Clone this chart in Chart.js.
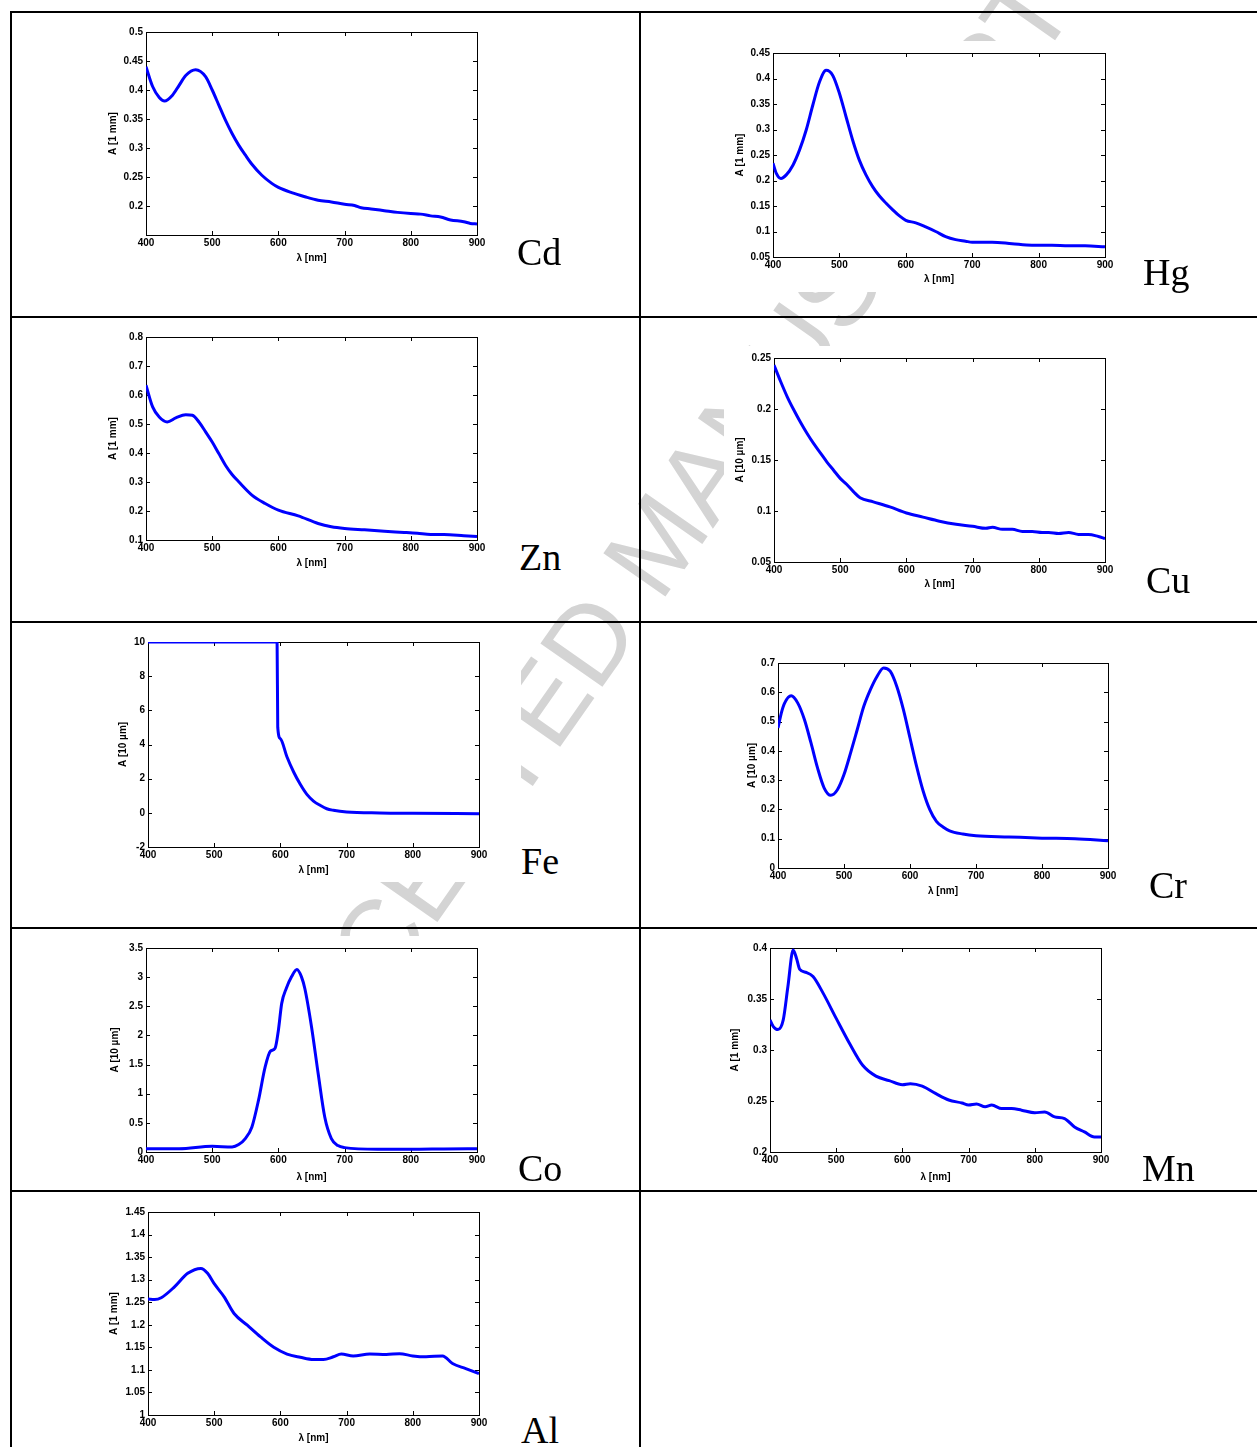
<!DOCTYPE html>
<html>
<head>
<meta charset="utf-8">
<script src="https://cdn.jsdelivr.net/npm/chart.js@4.4.1/dist/chart.umd.min.js"></script>
<style>
  body { margin:0; width:1257px; height:1447px; position:relative; overflow:hidden; background:#fff; }
  .wm { position:absolute; left:268px; top:1043px; white-space:nowrap; font:110px "Liberation Sans", Arial, sans-serif; line-height:110px; color:#d4d4d4; transform-origin:0 50%; transform:rotate(-55deg); z-index:0; }
  .hl { position:absolute; left:10px; width:1247px; height:2px; background:#000; z-index:1; }
  .vl { position:absolute; top:11px; width:2px; height:1436px; background:#000; z-index:1; }
  canvas { position:absolute; background:#fff; z-index:2; }
  .el { position:absolute; font:38px "Liberation Serif", "Times New Roman", serif; line-height:38px; color:#000; z-index:3; }
</style>
</head>
<body>
<div class="wm">ACCEPTED MANUSCRIPT</div>
<div class="hl" style="top:11px"></div>
<div class="hl" style="top:316px"></div>
<div class="hl" style="top:621px"></div>
<div class="hl" style="top:927px"></div>
<div class="hl" style="top:1190px"></div>
<div class="vl" style="left:10px"></div>
<div class="vl" style="left:639px"></div>

<div class="el" style="left:517px;top:233px">Cd</div>
<div class="el" style="left:1143px;top:253px">Hg</div>
<div class="el" style="left:519px;top:538px">Zn</div>
<div class="el" style="left:1146px;top:561px">Cu</div>
<div class="el" style="left:521px;top:842px">Fe</div>
<div class="el" style="left:1149px;top:866px">Cr</div>
<div class="el" style="left:518px;top:1149px">Co</div>
<div class="el" style="left:1142px;top:1149px">Mn</div>
<div class="el" style="left:521px;top:1411px">Al</div>

<script>
// wavelengths (nm) and absorbance
const xTicks = [400, 500, 600, 700, 800, 900];

const cdWl = [400,410,420,428,440,450,460,475,490,500,510,520,530,540,550,560,575,590,600,620,640,660,680,700,715,725,740,760,780,800,815,830,845,860,880,890,900];
const cdA  = [0.44,0.406,0.387,0.381,0.391,0.408,0.425,0.435,0.423,0.4,0.374,0.348,0.325,0.305,0.288,0.272,0.253,0.239,0.232,0.223,0.216,0.21,0.207,0.203,0.201,0.197,0.195,0.192,0.189,0.187,0.186,0.183,0.181,0.176,0.173,0.17,0.169];
const cdTicks = [0.2,0.25,0.3,0.35,0.4,0.45,0.5];

const hgWl = [400,405,412,420,430,440,450,460,470,480,490,500,510,520,530,540,550,560,570,580,590,600,615,630,645,660,675,690,700,730,760,790,820,845,870,900];
const hgA  = [0.234,0.214,0.204,0.211,0.23,0.26,0.299,0.348,0.393,0.416,0.406,0.371,0.325,0.279,0.24,0.211,0.188,0.17,0.156,0.143,0.131,0.122,0.117,0.109,0.1,0.09,0.084,0.081,0.079,0.079,0.076,0.073,0.073,0.072,0.072,0.07];
const hgTicks = [0.05,0.1,0.15,0.2,0.25,0.3,0.35,0.4,0.45];

const znWl = [400,410,420,432,445,460,470,480,490,500,510,520,530,540,560,580,600,630,660,680,700,730,760,790,810,830,850,880,900];
const znA  = [0.634,0.559,0.524,0.507,0.521,0.532,0.53,0.507,0.473,0.438,0.398,0.358,0.326,0.301,0.255,0.226,0.203,0.183,0.157,0.146,0.14,0.135,0.13,0.126,0.123,0.119,0.119,0.115,0.112];
const znTicks = [0.1,0.2,0.3,0.4,0.5,0.6,0.7,0.8];

const cuWl = [400,410,420,430,440,450,460,470,480,490,500,510,520,530,550,575,600,625,650,675,700,720,730,745,760,775,790,805,815,830,845,860,875,890,900];
const cuA  = [0.243,0.227,0.212,0.199,0.187,0.176,0.166,0.157,0.148,0.14,0.132,0.126,0.119,0.113,0.109,0.104,0.098,0.094,0.09,0.087,0.085,0.083,0.084,0.082,0.082,0.08,0.08,0.079,0.079,0.078,0.079,0.077,0.077,0.075,0.073];
const cuTicks = [0.05,0.1,0.15,0.2,0.25];

const feWl = [400,595,596,600,610,620,630,640,650,660,670,680,700,750,800,900];
const feA  = [10,10,5.0,4.34,3.27,2.39,1.67,1.08,0.69,0.44,0.24,0.15,0.05,-0.01,-0.03,-0.05];
const feTicks = [-2,0,2,4,6,8,10];

const crWl = [400,405,410,420,430,440,450,460,470,480,490,500,510,520,530,540,550,560,570,580,590,600,610,620,630,640,650,660,680,700,750,800,850,900];
const crA  = [0.478,0.529,0.563,0.588,0.563,0.507,0.427,0.341,0.273,0.248,0.267,0.319,0.393,0.472,0.552,0.609,0.654,0.683,0.672,0.62,0.541,0.444,0.347,0.262,0.199,0.159,0.14,0.127,0.116,0.11,0.106,0.102,0.1,0.093];
const crTicks = [0,0.1,0.2,0.3,0.4,0.5,0.6,0.7];

const coWl = [400,450,500,530,540,550,560,570,580,588,595,600,605,612,620,628,635,640,650,660,670,680,690,700,750,800,850,900];
const coA  = [0.057,0.057,0.098,0.086,0.127,0.23,0.43,0.89,1.46,1.73,1.78,2.09,2.55,2.81,3.01,3.13,3.0,2.8,2.15,1.35,0.6,0.23,0.11,0.075,0.046,0.046,0.052,0.057];
const coTicks = [0,0.5,1,1.5,2,2.5,3,3.5];

const mnWl = [400,405,412,420,427,435,440,445,455,465,480,500,520,540,560,580,600,612,630,650,670,690,700,712,725,735,750,765,780,800,815,830,845,860,875,890,900];
const mnA  = [0.3295,0.323,0.32,0.3295,0.362,0.398,0.39,0.379,0.376,0.372,0.356,0.331,0.3066,0.285,0.2744,0.27,0.266,0.267,0.2646,0.2574,0.251,0.248,0.246,0.247,0.2443,0.246,0.2426,0.2426,0.241,0.2384,0.2393,0.2344,0.2328,0.2246,0.2197,0.2148,0.2148];
const mnTicks = [0.2,0.25,0.3,0.35,0.4];

const alWl = [400,410,420,440,460,480,490,500,515,530,550,570,590,610,630,650,665,680,692,710,735,760,780,800,820,845,860,880,900];
const alA  = [1.257,1.256,1.26,1.284,1.314,1.325,1.314,1.291,1.262,1.225,1.199,1.173,1.15,1.135,1.128,1.123,1.123,1.129,1.135,1.131,1.135,1.134,1.136,1.131,1.129,1.131,1.114,1.103,1.092];
const alTicks = [1,1.05,1.1,1.15,1.2,1.25,1.3,1.35,1.4,1.45];

// box = plot area [left, top, width, height] on the page
const panels = [
  { wl: cdWl, a: cdA, ticks: cdTicks, min: 0.15, max: 0.5,  yTitle: 'A [1 mm]',  box: [146, 32, 331, 203],  yGap: 33, xGap: 23 },
  { wl: hgWl, a: hgA, ticks: hgTicks, min: 0.05, max: 0.45, yTitle: 'A [1 mm]',  box: [773, 53, 332, 204],  yGap: 33, xGap: 22 },
  { wl: znWl, a: znA, ticks: znTicks, min: 0.1,  max: 0.8,  yTitle: 'A [1 mm]',  box: [146, 337, 331, 203], yGap: 33, xGap: 23 },
  { wl: cuWl, a: cuA, ticks: cuTicks, min: 0.05, max: 0.25, yTitle: 'A [10 µm]', box: [774, 358, 331, 204], yGap: 34, xGap: 22 },
  { wl: feWl, a: feA, ticks: feTicks, min: -2,   max: 10,   yTitle: 'A [10 µm]', box: [148, 642, 331, 205], yGap: 25, xGap: 23 },
  { wl: crWl, a: crA, ticks: crTicks, min: 0,    max: 0.7,  yTitle: 'A [10 µm]', box: [778, 663, 330, 205], yGap: 26, xGap: 23 },
  { wl: coWl, a: coA, ticks: coTicks, min: 0,    max: 3.5,  yTitle: 'A [10 µm]', box: [146, 948, 331, 204], yGap: 31, xGap: 25 },
  { wl: mnWl, a: mnA, ticks: mnTicks, min: 0.2,  max: 0.4,  yTitle: 'A [1 mm]',  box: [770, 948, 331, 204], yGap: 35, xGap: 25 },
  { wl: alWl, a: alA, ticks: alTicks, min: 1,    max: 1.45, yTitle: 'A [1 mm]',  box: [148, 1212, 331, 203], yGap: 34, xGap: 23 }
];

// matlab style box with inward ticks on all four sides
const frame = {
  id: 'frame',
  beforeDatasetsDraw(chart) {
    const ctx = chart.ctx, a = chart.chartArea, x = chart.scales.x, y = chart.scales.y;
    ctx.save();
    ctx.strokeStyle = '#000';
    ctx.lineWidth = 1;
    ctx.strokeRect(Math.round(a.left) + 0.5, Math.round(a.top) + 0.5, Math.round(a.right - a.left), Math.round(a.bottom - a.top));
    ctx.beginPath();
    x.ticks.forEach(t => {
      const px = Math.round(x.getPixelForValue(t.value)) + 0.5;
      ctx.moveTo(px, a.bottom); ctx.lineTo(px, a.bottom - 4);
      ctx.moveTo(px, a.top); ctx.lineTo(px, a.top + 4);
    });
    y.ticks.forEach(t => {
      const py = Math.round(y.getPixelForValue(t.value)) + 0.5;
      ctx.moveTo(a.left, py); ctx.lineTo(a.left + 4, py);
      ctx.moveTo(a.right, py); ctx.lineTo(a.right - 4, py);
    });
    ctx.stroke();
    ctx.restore();
  }
};

Chart.defaults.font.family = '"Liberation Sans", Arial, sans-serif';
Chart.defaults.color = '#000';

function makeChart(p) {
  const b = p.box;
  const cv = document.createElement('canvas');
  cv.width = b[2] + 92;
  cv.height = b[3] + 47;
  cv.style.left = (b[0] - 50) + 'px';
  cv.style.top = (b[1] - 12) + 'px';
  document.body.appendChild(cv);

  return new Chart(cv, {
    type: 'line',
    data: {
      datasets: [{
        data: p.wl.map((w, i) => ({ x: w, y: p.a[i] })),
        borderColor: 'rgb(0, 0, 255)',
        borderWidth: 3,
        pointRadius: 0,
        cubicInterpolationMode: 'monotone',
        fill: false
      }]
    },
    options: {
      responsive: false,
      animation: false,
      devicePixelRatio: 1,
      layout: { padding: { top: 12, right: 42, left: 0, bottom: 0 } },
      plugins: { legend: { display: false }, tooltip: { enabled: false } },
      scales: {
        x: {
          type: 'linear', min: 400, max: 900,
          afterFit: s => { s.height = 35; },
          afterBuildTicks: s => { s.ticks = xTicks.map(v => ({ value: v })); },
          grid: { display: false, drawTicks: false },
          border: { display: false },
          ticks: { autoSkip: false, maxRotation: 0, padding: 2, font: { size: 10, weight: 'bold' } },
          title: { display: true, text: 'λ [nm]', font: { size: 10, weight: 'bold' }, padding: { top: 0, bottom: 29 - p.xGap } }
        },
        y: {
          type: 'linear', min: p.min, max: p.max,
          afterFit: s => { s.width = 50; },
          afterBuildTicks: s => { s.ticks = p.ticks.map(v => ({ value: v })); },
          grid: { display: false, drawTicks: false },
          border: { display: false },
          ticks: { autoSkip: false, padding: 3, font: { size: 10, weight: 'bold' }, callback: v => String(+v.toFixed(3)) },
          title: { display: true, text: p.yTitle, font: { size: 10, weight: 'bold' }, padding: { top: 44 - p.yGap, bottom: 0 } }
        }
      }
    },
    plugins: [frame]
  });
}

panels.forEach(makeChart);
</script>
</body>
</html>
